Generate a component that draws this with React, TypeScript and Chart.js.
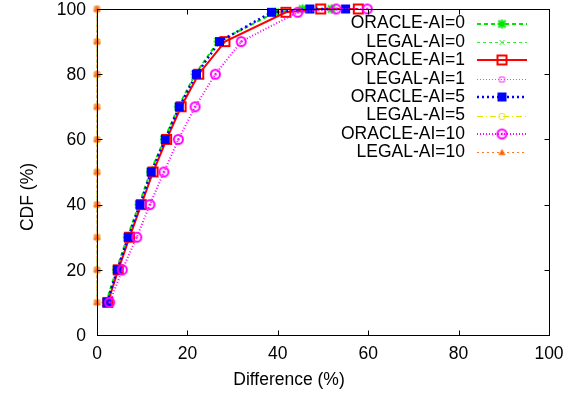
import React, { useEffect, useRef } from 'react';
import { Chart, registerables } from 'chart.js';

Chart.register(...registerables);

// ---- data ----
const oracleLevels = [10, 20, 30, 40, 50, 60, 70, 80, 90, 99, 100, 100];
const legalLevels = [10, 20, 30, 40, 50, 60, 70, 80, 90, 100];

const oracleAI0 = [2.0, 4.3, 6.7, 9.3, 11.8, 14.9, 18.0, 21.7, 26.8, 39.5, 45.5, 51.9];
const oracleAI1 = [2.4, 4.7, 7.2, 9.8, 12.4, 15.4, 18.6, 22.5, 28.3, 41.8, 49.5, 57.8];
const oracleAI5 = [2.2, 4.5, 6.9, 9.5, 12.0, 15.1, 18.2, 22.0, 27.1, 38.6, 47.1, 55.0];
const oracleAI10 = [2.8, 5.6, 8.8, 11.7, 14.8, 18.0, 21.7, 26.2, 31.9, 44.4, 52.9, 59.8];

const legalAI0 = [0, 0, 0, 0, 0, 0, 0, 0, 0, 0];
const legalAI1 = [0, 0, 0, 0, 0, 0, 0, 0, 0, 0];
const legalAI5 = [0, 0, 0, 0, 0, 0, 0, 0, 0, 0];
const legalAI10 = [0, 0, 0, 0, 0, 0, 0, 0, 0, 0];

const xTicks = [0, 20, 40, 60, 80, 100];
const yTicks = [0, 20, 40, 60, 80, 100];

const seriesLabels = [
  'ORACLE-AI=0', 'LEGAL-AI=0', 'ORACLE-AI=1', 'LEGAL-AI=1',
  'ORACLE-AI=5', 'LEGAL-AI=5', 'ORACLE-AI=10', 'LEGAL-AI=10',
];

const FONT = '"Liberation Sans", Arial, Helvetica, sans-serif';
const FS = 17.5;

type MarkerSpec = { kind: string; color: string; size: number; lw: number; fill?: string };

function makeMarker(m: MarkerSpec): HTMLCanvasElement {
  const c = document.createElement('canvas');
  const S = 17;
  c.width = S; c.height = S;
  const g = c.getContext('2d')!;
  const cx = S / 2, cy = S / 2, r = m.size;
  g.strokeStyle = m.color;
  g.fillStyle = m.fill || m.color;
  g.lineWidth = m.lw;
  g.beginPath();
  if (m.kind === 'star') {
    g.moveTo(cx - r, cy); g.lineTo(cx + r, cy);
    g.moveTo(cx, cy - r); g.lineTo(cx, cy + r);
    const d = r * 0.8;
    g.moveTo(cx - d, cy - d); g.lineTo(cx + d, cy + d);
    g.moveTo(cx - d, cy + d); g.lineTo(cx + d, cy - d);
    g.stroke();
  } else if (m.kind === 'cross') {
    g.moveTo(cx - r, cy - r); g.lineTo(cx + r, cy + r);
    g.moveTo(cx - r, cy + r); g.lineTo(cx + r, cy - r);
    g.stroke();
  } else if (m.kind === 'rect') {
    g.rect(cx - r, cy - r, 2 * r, 2 * r);
    g.stroke();
  } else if (m.kind === 'rectFill') {
    g.rect(cx - r, cy - r, 2 * r, 2 * r);
    g.fill();
  } else if (m.kind === 'circle') {
    g.arc(cx, cy, r, 0, Math.PI * 2);
    g.stroke();
  } else if (m.kind === 'circleDot') {
    g.arc(cx, cy, r, 0, Math.PI * 2);
    g.stroke();
    g.beginPath();
    g.arc(cx, cy, 1.2, 0, Math.PI * 2);
    g.fill();
  } else if (m.kind === 'triangle') {
    g.moveTo(cx, cy - r);
    g.lineTo(cx + r, cy + r * 0.75);
    g.lineTo(cx - r, cy + r * 0.75);
    g.closePath();
    g.fill();
    g.stroke();
  }
  return c;
}

export default function App() {
  const ref = useRef<HTMLCanvasElement>(null);

  useEffect(() => {
    const canvas = ref.current!;
    const styles = [
      { color: '#00e600', width: 2, dash: [4, 3], marker: { kind: 'star', color: '#00e600', size: 4.5, lw: 2 } },
      { color: '#33ee33', width: 1, dash: [3, 3], marker: { kind: 'cross', color: '#33ee33', size: 2.5, lw: 1 } },
      { color: '#ff0000', width: 2, dash: [], marker: { kind: 'rect', color: '#ff0000', size: 4.5, lw: 2 } },
      { color: '#ff33ff', width: 1, dash: [1, 2], marker: { kind: 'rect', color: '#ff33ff', size: 2.5, lw: 1 } },
      { color: '#0000ff', width: 2.5, dash: [2, 3], marker: { kind: 'rectFill', color: '#0000ff', size: 4.5, lw: 1 } },
      { color: '#e6e600', width: 1, dash: [6, 3, 1, 3], marker: { kind: 'circle', color: '#e6e600', size: 3.2, lw: 1 } },
      { color: '#ff00ff', width: 2, dash: [1, 2], marker: { kind: 'circleDot', color: '#ff00ff', size: 4.5, lw: 2 } },
      { color: '#ff7a1a', width: 1, dash: [2, 3], marker: { kind: 'triangle', color: '#ff7a1a', size: 3, lw: 1, fill: '#ff5a1a' } },
    ];
    const markers = styles.map((s) => makeMarker(s.marker as MarkerSpec));
    const xsList = [oracleAI0, legalAI0, oracleAI1, legalAI1, oracleAI5, legalAI5, oracleAI10, legalAI10];

    const datasets = xsList.map((xs, i) => {
      const ys = i % 2 === 0 ? oracleLevels : legalLevels;
      return {
        label: seriesLabels[i],
        data: xs.map((x, j) => ({ x, y: ys[j] })),
        borderColor: styles[i].color,
        backgroundColor: styles[i].color,
        borderWidth: styles[i].width,
        borderDash: styles[i].dash,
        pointStyle: markers[i],
        pointRadius: 5,
        pointHoverRadius: 5,
        showLine: true,
        tension: 0,
        clip: false,
        order: 10 - i,
      };
    });

    const framePlugin = {
      id: 'frame',
      afterDatasetsDraw(chart: any) {
        const { ctx, chartArea: a, scales } = chart;
        const xs = scales.x, ys = scales.y;
        ctx.save();
        ctx.strokeStyle = '#000';
        ctx.lineWidth = 1;
        ctx.beginPath();
        const L = Math.round(a.left) + 0.5, R = Math.round(a.right) + 0.5;
        const T = Math.round(a.top) + 0.5, B = Math.round(a.bottom) + 0.5;
        for (const v of xTicks) {
          const px = Math.round(xs.getPixelForValue(v)) + 0.5;
          ctx.moveTo(px, B); ctx.lineTo(px, B - 5);
          ctx.moveTo(px, T); ctx.lineTo(px, T + 5);
        }
        for (const v of yTicks) {
          const py = Math.round(ys.getPixelForValue(v)) + 0.5;
          ctx.moveTo(L, py); ctx.lineTo(L + 5, py);
          ctx.moveTo(R, py); ctx.lineTo(R - 5, py);
        }
        ctx.stroke();
        ctx.strokeRect(L, T, R - L, B - T);
        // y tick labels
        ctx.fillStyle = '#000';
        ctx.font = `${FS}px ${FONT}`;
        ctx.textAlign = 'right';
        ctx.textBaseline = 'middle';
        for (const v of yTicks) {
          ctx.fillText(String(v), a.left - 11, ys.getPixelForValue(v) + 1);
        }
        // axis titles
        ctx.textAlign = 'center';
        ctx.fillText('Difference (%)', chart.width / 2, 380);
        ctx.translate(28, 197);
        ctx.rotate(-Math.PI / 2);
        ctx.fillText('CDF (%)', 0, 0);
        ctx.restore();
      },
      afterDraw(chart: any) {
        const { ctx } = chart;
        ctx.save();
        ctx.font = `${FS}px ${FONT}`;
        ctx.textBaseline = 'middle';
        ctx.textAlign = 'right';
        const textRight = 465, x0 = 477, x1 = 527, mx = 502;
        seriesLabels.forEach((lab, i) => {
          const y = 23.5 + i * 18.4;
          ctx.fillStyle = '#000';
          ctx.fillText(lab, textRight, y);
          ctx.strokeStyle = styles[i].color;
          ctx.lineWidth = styles[i].width;
          ctx.setLineDash(styles[i].dash);
          ctx.beginPath();
          const yy = Math.round(y) + (styles[i].width % 2 === 1 ? 0.5 : 0);
          ctx.moveTo(x0, yy); ctx.lineTo(x1, yy);
          ctx.stroke();
          ctx.setLineDash([]);
          const m = markers[i];
          ctx.drawImage(m, mx - m.width / 2, yy - m.height / 2);
        });
        ctx.restore();
      },
    };

    const chart = new Chart(canvas, {
      type: 'scatter',
      data: { datasets: datasets as any },
      options: {
        animation: false,
        responsive: false,
        devicePixelRatio: 1,
        layout: { autoPadding: false, padding: { left: 0, right: 29, top: 9, bottom: 0 } },
        plugins: { legend: { display: false }, tooltip: { enabled: false } },
        scales: {
          x: {
            type: 'linear',
            min: 0,
            max: 100,
            afterFit: (s: any) => { s.height = 59; },
            afterBuildTicks: (s: any) => { s.ticks = xTicks.map((v) => ({ value: v })); },
            grid: { display: false, drawTicks: false },
            border: { display: false },
            ticks: { padding: 9, color: '#000', font: { family: FONT, size: FS } },
          },
          y: {
            type: 'linear',
            min: 0,
            max: 100,
            afterFit: (s: any) => { s.width = 97; },
            afterBuildTicks: (s: any) => { s.ticks = yTicks.map((v) => ({ value: v })); },
            grid: { display: false, drawTicks: false },
            border: { display: false },
            ticks: { display: false, padding: 0 },
          },
        },
      },
      plugins: [framePlugin],
    });
    return () => chart.destroy();
  }, []);

  return (
    <div style={{ position: 'absolute', left: 0, top: 0, width: 578, height: 394, background: '#fff' }}>
      <canvas ref={ref} width={578} height={394} style={{ display: 'block' }} />
    </div>
  );
}
